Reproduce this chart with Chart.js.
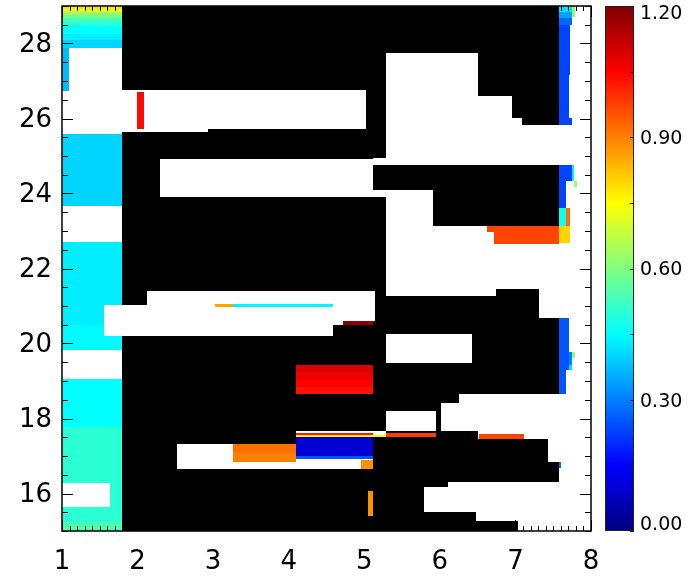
<!DOCTYPE html>
<html>
<head>
<meta charset="utf-8">
<script src="https://cdn.jsdelivr.net/npm/chart.js@4.4.1/dist/chart.umd.min.js"></script>
<style>
  html, body { margin: 0; padding: 0; background: #fff; }
  canvas { display: block; }
</style>
</head>
<body>
<canvas id="myChart" width="700" height="581"></canvas>
<script>
// Axes
const xTicks = [1, 2, 3, 4, 5, 6, 7, 8];
const yTicks = [16, 18, 20, 22, 24, 26, 28];
const xMinorStep = 0.1;
const yMinorStep = 0.5;

// Colour bar (jet, 0 to 1.2)
const cbMax = 1.2;
const cbTicks = [0, 0.3, 0.6, 0.9, 1.2];
const cbMinorStep = 0.15;

// Cells: [x0, x1, y0, y1] in data units
const blackCells = [
  [1.79, 7.58, 15.0, 29.0]
];

const whiteCells = [
  [1.79, 2.93, 25.64, 26.76],
  [2.93, 5.02, 25.72, 26.76],
  [2.30, 5.12, 23.91, 24.92],
  [5.12, 5.29, 24.76, 24.95],
  [5.12, 5.29, 23.91, 24.09],
  [5.29, 6.51, 24.76, 27.75],
  [6.51, 6.96, 24.76, 26.60],
  [6.96, 7.09, 24.76, 26.01],
  [7.09, 7.58, 24.76, 25.83],
  [5.29, 5.91, 23.13, 24.09],
  [5.29, 7.58, 21.45, 23.13],
  [5.29, 6.74, 21.27, 21.45],
  [7.31, 7.58, 20.68, 21.45],
  [1.79, 2.13, 20.20, 21.03],
  [2.13, 4.59, 20.20, 21.40],
  [4.59, 4.72, 20.49, 21.40],
  [4.72, 5.14, 20.60, 21.40],
  [5.29, 6.43, 19.48, 20.25],
  [6.25, 7.58, 18.41, 18.65],
  [6.02, 7.58, 17.67, 18.41],
  [6.51, 7.58, 17.45, 17.67],
  [7.43, 7.58, 16.84, 17.45],
  [5.29, 5.95, 17.67, 18.20],
  [2.52, 5.12, 16.65, 17.32],
  [4.09, 5.21, 17.61, 17.67],
  [5.12, 5.29, 17.56, 17.67],
  [6.11, 7.58, 16.17, 16.31],
  [5.79, 7.58, 15.51, 16.17],
  [6.48, 7.58, 15.27, 15.51],
  [7.03, 7.58, 15.00, 15.27]
];

// Coloured cells: [x0, x1, y0, y1, value]
const leftColumnCells = [
  [1.0, 1.79, 28.92, 29.00, 0.78],
  [1.0, 1.79, 28.84, 28.92, 0.71],
  [1.0, 1.79, 28.76, 28.84, 0.64],
  [1.0, 1.79, 28.68, 28.76, 0.58],
  [1.0, 1.79, 28.57, 28.68, 0.53],
  [1.0, 1.79, 28.47, 28.57, 0.49],
  [1.0, 1.79, 28.25, 28.47, 0.45],
  [1.0, 1.79, 28.09, 28.25, 0.43],
  [1.0, 1.79, 27.88, 28.09, 0.40],
  [1.0, 1.09, 26.73, 27.88, 0.37],
  [1.0, 1.79, 23.67, 25.59, 0.40],
  [1.0, 1.79, 21.03, 22.71, 0.43],
  [1.0, 1.56, 20.49, 21.03, 0.43],
  [1.0, 1.56, 20.20, 20.49, 0.445],
  [1.0, 1.79, 19.83, 20.20, 0.445],
  [1.0, 1.79, 17.77, 19.05, 0.45],
  [1.0, 1.79, 16.28, 17.77, 0.50],
  [1.64, 1.79, 15.64, 16.28, 0.50],
  [1.0, 1.79, 15.24, 15.64, 0.50],
  [1.0, 1.79, 15.00, 15.24, 0.54]
];

const mainCells = [
  [1.99, 2.09, 25.72, 26.71, 1.04],
  [3.03, 3.26, 20.97, 21.05, 0.86],
  [3.26, 4.59, 20.97, 21.05, 0.44],
  [4.72, 5.12, 20.49, 20.60, 1.18],
  [4.09, 5.12, 19.24, 19.43, 1.09],
  [4.09, 5.12, 19.04, 19.24, 1.07],
  [4.09, 5.12, 18.85, 19.04, 1.05],
  [4.09, 5.12, 18.65, 18.85, 1.03],
  [3.26, 4.09, 17.08, 17.32, 0.92],
  [3.26, 4.09, 16.84, 17.08, 0.90],
  [4.09, 5.12, 16.99, 17.51, 0.10],
  [4.09, 5.12, 16.92, 16.99, 0.25],
  [4.09, 5.12, 17.56, 17.61, 1.02],
  [4.09, 5.29, 17.51, 17.56, 0.76],
  [5.29, 5.95, 17.51, 17.61, 0.98],
  [6.52, 7.11, 17.45, 17.59, 0.97],
  [4.96, 5.12, 16.65, 16.89, 0.88],
  [5.05, 5.12, 15.40, 16.07, 0.88],
  [6.62, 7.58, 22.97, 23.13, 0.97],
  [6.72, 7.58, 22.65, 22.97, 0.97]
];

const rightStripCells = [
  [7.58, 7.75, 28.84, 29.00, 0.42],
  [7.58, 7.75, 28.68, 28.84, 0.34],
  [7.58, 7.75, 28.49, 28.68, 0.27],
  [7.58, 7.72, 27.16, 28.49, 0.23],
  [7.58, 7.71, 26.01, 27.16, 0.23],
  [7.58, 7.75, 25.83, 26.01, 0.23],
  [7.75, 7.79, 28.71, 29.00, 0.62],
  [7.58, 7.75, 24.33, 24.76, 0.23],
  [7.75, 7.78, 24.33, 24.76, 0.43],
  [7.78, 7.82, 24.17, 24.33, 0.62],
  [7.58, 7.67, 23.61, 24.33, 0.23],
  [7.58, 7.67, 23.13, 23.61, 0.47],
  [7.67, 7.72, 23.13, 23.61, 0.92],
  [7.58, 7.72, 22.68, 23.13, 0.80],
  [7.58, 7.71, 19.29, 20.68, 0.25],
  [7.71, 7.75, 19.43, 19.77, 0.30],
  [7.71, 7.75, 19.29, 19.43, 0.42],
  [7.75, 7.79, 19.61, 19.77, 0.62],
  [7.58, 7.67, 18.65, 19.29, 0.25],
  [7.58, 7.60, 16.68, 16.84, 0.27]
];

function jet(t) {
  t = Math.min(1, Math.max(0, t));
  const c = k => Math.round(255 * Math.min(1, Math.max(0, 1.5 - Math.abs(4 * t - k))));
  return 'rgb(' + c(3) + ',' + c(2) + ',' + c(1) + ')';
}

const heatmapPlugin = {
  id: 'heatmap',
  beforeDatasetsDraw(chart) {
    const { ctx, chartArea: a, scales: { x, y } } = chart;
    const fillCell = (c, color) => {
      const l = Math.round(x.getPixelForValue(c[0]));
      const r = Math.round(x.getPixelForValue(c[1]));
      const t = Math.round(y.getPixelForValue(c[3]));
      const b = Math.round(y.getPixelForValue(c[2]));
      ctx.fillStyle = color;
      ctx.fillRect(l, t, r - l, b - t);
    };
    ctx.save();
    ctx.beginPath();
    ctx.rect(a.left, a.top, a.width, a.height);
    ctx.clip();
    blackCells.forEach(c => fillCell(c, '#000'));
    whiteCells.forEach(c => fillCell(c, '#fff'));
    leftColumnCells.concat(mainCells, rightStripCells)
      .forEach(c => fillCell(c, jet(c[4] / cbMax)));
    ctx.restore();
  },
  afterDatasetsDraw(chart) {
    const { ctx, chartArea: a, scales: { x, y, cb } } = chart;
    const isMajor = (list, v) => list.some(t => Math.abs(t - v) < 1e-6);
    ctx.save();

    // ticks pointing inwards on the four sides
    ctx.strokeStyle = '#000';
    ctx.lineWidth = 1;
    ctx.beginPath();
    const nx = Math.round((x.max - x.min) / xMinorStep);
    for (let i = 0; i <= nx; i++) {
      const v = x.min + i * xMinorStep;
      const len = isMajor(xTicks, v) ? 11 : 5;
      const px = Math.round(x.getPixelForValue(v)) + 0.5;
      ctx.moveTo(px, a.bottom); ctx.lineTo(px, a.bottom - len);
      ctx.moveTo(px, a.top); ctx.lineTo(px, a.top + len);
    }
    const ny = Math.round((y.max - y.min) / yMinorStep);
    for (let i = 0; i <= ny; i++) {
      const v = y.min + i * yMinorStep;
      const len = isMajor(yTicks, v) ? 11 : 6;
      const py = Math.round(y.getPixelForValue(v)) + 0.5;
      ctx.moveTo(a.left, py); ctx.lineTo(a.left + len, py);
      ctx.moveTo(a.right, py); ctx.lineTo(a.right - len, py);
    }
    ctx.stroke();
    ctx.lineWidth = 1.5;
    ctx.strokeRect(a.left, a.top, a.width, a.height);

    // colour bar
    const cbLeft = a.right + 14, cbWidth = 29;
    for (let py = Math.floor(cb.top); py < Math.ceil(cb.bottom); py++) {
      ctx.fillStyle = jet(cb.getValueForPixel(py + 0.5) / cbMax);
      ctx.fillRect(cbLeft, py, cbWidth, 1);
    }
    ctx.strokeStyle = '#222';
    ctx.lineWidth = 1;
    ctx.strokeRect(cbLeft + 0.5, cb.top + 0.5, cbWidth - 1, cb.bottom - cb.top - 1);
    ctx.beginPath();
    const nc = Math.round(cbMax / cbMinorStep);
    for (let i = 0; i <= nc; i++) {
      const py = Math.round(cb.getPixelForValue(i * cbMinorStep)) + 0.5;
      ctx.moveTo(cbLeft + cbWidth, py); ctx.lineTo(cbLeft + cbWidth - 4, py);
    }
    ctx.stroke();

    ctx.fillStyle = '#000';
    ctx.font = '19px "DejaVu Sans"';
    ctx.textAlign = 'left';
    ctx.textBaseline = 'middle';
    cbTicks.forEach(v => {
      let py = cb.getPixelForValue(v) + 2;
      py = Math.min(Math.max(py, cb.top + 8.5), cb.bottom - 6);
      ctx.fillText(v.toFixed(2), a.right + 49, py);
    });
    ctx.restore();
  }
};

const tickFont = { family: 'DejaVu Sans', size: 26 };

new Chart(document.getElementById('myChart').getContext('2d'), {
  type: 'scatter',
  data: { datasets: [{ data: [] }] },
  options: {
    responsive: false,
    animation: false,
    devicePixelRatio: 1,
    layout: { padding: { left: 19, right: 109, top: 6, bottom: 3 } },
    plugins: { legend: { display: false }, tooltip: { enabled: false } },
    scales: {
      x: {
        type: 'linear', min: 1, max: 8,
        grid: { display: false, drawTicks: false },
        border: { display: false },
        afterBuildTicks: s => { s.ticks = xTicks.map(v => ({ value: v })); },
        afterFit: s => { s.height = 47; s.paddingLeft = 0; s.paddingRight = 0; },
        ticks: { color: '#000', padding: 16, maxRotation: 0, autoSkip: false, font: tickFont }
      },
      y: {
        type: 'linear', min: 15, max: 29,
        grid: { display: false, drawTicks: false },
        border: { display: false },
        afterBuildTicks: s => { s.ticks = yTicks.map(v => ({ value: v })); },
        afterFit: s => { s.width = 43; s.paddingTop = 0; s.paddingBottom = 0; },
        ticks: { color: '#000', padding: 10, labelOffset: 2, autoSkip: false, font: tickFont }
      },
      cb: {
        axis: 'y', type: 'linear', position: 'right', display: false,
        min: 0, max: cbMax,
        ticks: { display: false },
        afterFit: s => { s.width = 0; s.paddingTop = 0; s.paddingBottom = 0; }
      }
    }
  },
  plugins: [heatmapPlugin]
});
</script>
</body>
</html>
